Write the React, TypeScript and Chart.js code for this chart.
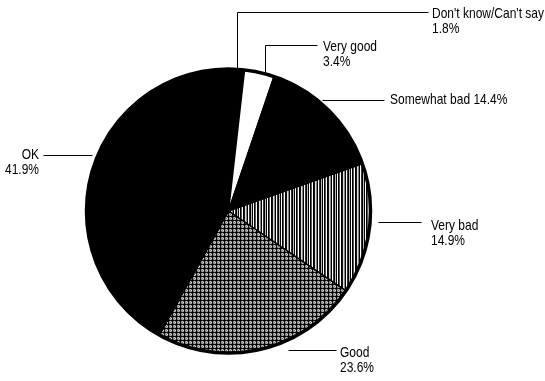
import React, { useEffect, useRef } from "react";
import { Chart, registerables } from "chart.js";

Chart.register(...registerables);

// Survey answers, clockwise from 12 o'clock
const categories = ["Don't know/Can't say", "Very good", "Somewhat bad", "Very bad", "Good", "OK"];
const shares = [1.8, 3.4, 14.4, 14.9, 23.6, 41.9];
const shareLabels = ["1.8%", "3.4%", "14.4%", "14.9%", "23.6%", "41.9%"];

// Callout placement: text anchor, whether value sits on the same line, and leader line.
// A leader with dropX starts on the pie rim straight below its first point.
type Callout = {
  x: number;
  y: number;
  align: CanvasTextAlign;
  inline: boolean;
  leader: number[][];
  dropX?: boolean;
};
const callouts: Callout[] = [
  { x: 432, y: 14, align: "left", inline: false, leader: [[237, 12], [428, 12]], dropX: true },
  { x: 323, y: 47, align: "left", inline: false, leader: [[265, 45], [317, 45]], dropX: true },
  { x: 390, y: 100, align: "left", inline: true, leader: [[322, 100], [384, 100]] },
  { x: 431, y: 226, align: "left", inline: false, leader: [[378, 222], [421, 222]] },
  { x: 340, y: 353, align: "left", inline: false, leader: [[288, 350], [336, 350]] },
  { x: 39, y: 155, align: "right", inline: false, leader: [[43, 155], [92, 155]] },
];

// Narrow sans: regular sans squeezed horizontally
const FONT = "15px 'Liberation Sans', Arial, sans-serif";
const SQUEEZE = 0.8;

function makeStripes(): CanvasPattern | string {
  const cols = ["#000", "#fff", "#000", "#555", "#fff", "#000", "#111", "#ddd", "#888", "#000", "#fff", "#333", "#000", "#bbb"];
  const c = document.createElement("canvas");
  c.width = cols.length;
  c.height = 4;
  const g = c.getContext("2d");
  if (!g) return "#666";
  cols.forEach((col, i) => {
    g.fillStyle = col;
    g.fillRect(i, 0, 1, 4);
  });
  return g.createPattern(c, "repeat") || "#666";
}

function makeGrid(): CanvasPattern | string {
  const c = document.createElement("canvas");
  c.width = 4;
  c.height = 4;
  const g = c.getContext("2d");
  if (!g) return "#888";
  const cells = [
    ["#000", "#000", "#111", "#000"],
    ["#000", "#888", "#ccc", "#666"],
    ["#111", "#aaa", "#777", "#ddd"],
    ["#000", "#666", "#bbb", "#888"],
  ];
  cells.forEach((row, y) =>
    row.forEach((col, x) => {
      g.fillStyle = col;
      g.fillRect(x, y, 1, 1);
    })
  );
  return g.createPattern(c, "repeat") || "#888";
}

function drawText(ctx: CanvasRenderingContext2D, text: string, x: number, y: number, align: CanvasTextAlign) {
  ctx.save();
  ctx.translate(x, y);
  ctx.scale(SQUEEZE, 1);
  ctx.textAlign = align;
  ctx.fillText(text, 0, 0);
  ctx.restore();
}

const calloutPlugin = {
  id: "callouts",
  afterDatasetsDraw(chart: any) {
    const ctx: CanvasRenderingContext2D = chart.ctx;
    const first = chart.getDatasetMeta(0).data[0];
    if (!first) return;
    const { x: cx, y: cy, outerRadius: r } = first.getProps(["x", "y", "outerRadius"], true);

    ctx.save();
    // heavy rim around the whole pie
    ctx.beginPath();
    ctx.arc(cx, cy, r, 0, Math.PI * 2);
    ctx.lineWidth = 3.5;
    ctx.strokeStyle = "#000";
    ctx.stroke();

    ctx.font = FONT;
    ctx.fillStyle = "#000";
    ctx.textBaseline = "middle";
    ctx.lineWidth = 1;

    callouts.forEach((c, i) => {
      const pts = c.leader.map((p) => [p[0] + 0.5, p[1] + 0.5]);
      if (c.dropX) {
        const dx = pts[0][0] - cx;
        const rimY = cy - Math.sqrt(Math.max(r * r - dx * dx, 0)) - 1;
        pts.unshift([pts[0][0], rimY]);
      }
      ctx.beginPath();
      pts.forEach((p, k) => (k === 0 ? ctx.moveTo(p[0], p[1]) : ctx.lineTo(p[0], p[1])));
      ctx.stroke();

      if (c.inline) {
        drawText(ctx, `${categories[i]} ${shareLabels[i]}`, c.x, c.y, c.align);
      } else {
        drawText(ctx, categories[i], c.x, c.y, c.align);
        drawText(ctx, shareLabels[i], c.x, c.y + 15, c.align);
      }
    });
    ctx.restore();
  },
};

export default function App() {
  const ref = useRef<HTMLCanvasElement | null>(null);

  useEffect(() => {
    if (!ref.current) return;
    const fills = ["#000", "#fff", "#000", makeStripes(), makeGrid(), "#000"];
    const chart = new Chart(ref.current, {
      type: "pie",
      data: {
        labels: categories,
        datasets: [
          {
            data: shares,
            backgroundColor: fills as any,
            borderColor: "#000",
            borderWidth: 1.5,
          },
        ],
      },
      options: {
        animation: false,
        responsive: false,
        radius: 142,
        layout: { padding: { left: 80, right: 168, top: 60, bottom: 19 } },
        plugins: {
          legend: { display: false },
          tooltip: { enabled: false },
        },
      } as any,
      plugins: [calloutPlugin],
    });
    return () => chart.destroy();
  }, []);

  return (
    <div style={{ position: "fixed", left: 0, top: 0, width: 545, height: 381, background: "#fff" }}>
      <canvas ref={ref} width={545} height={381} />
    </div>
  );
}
